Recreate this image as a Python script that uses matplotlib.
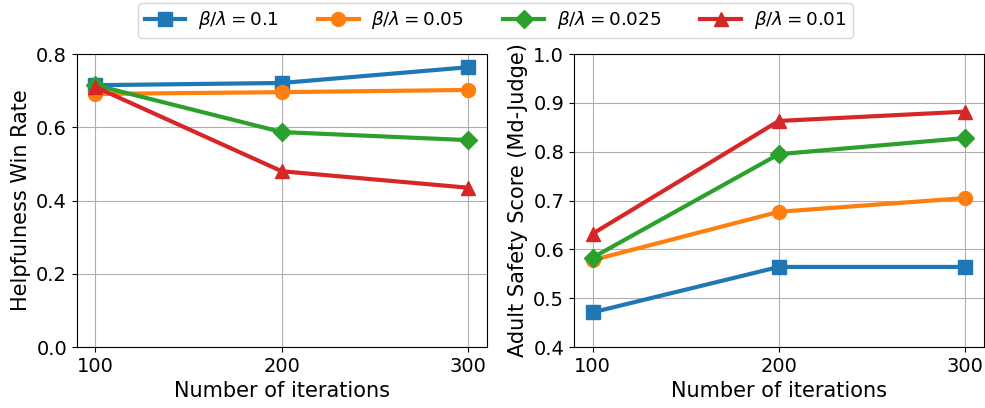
import matplotlib
matplotlib.use("Agg")
import matplotlib.pyplot as plt

iterations = [100, 200, 300]
labels = [r'$\beta/\lambda = 0.1$', r'$\beta/\lambda = 0.05$',
          r'$\beta/\lambda = 0.025$', r'$\beta/\lambda = 0.01$']
colors = ['#1f77b4', '#ff7f0e', '#2ca02c', '#d62728']
markers = ['s', 'o', 'D', '^']

# Helpfulness win rate
help_01 = [0.715, 0.721, 0.764]
help_005 = [0.691, 0.696, 0.702]
help_0025 = [0.715, 0.587, 0.565]
help_001 = [0.710, 0.480, 0.435]

# Adult safety score (Md-Judge)
safe_01 = [0.471, 0.564, 0.564]
safe_005 = [0.578, 0.677, 0.705]
safe_0025 = [0.583, 0.795, 0.828]
safe_001 = [0.632, 0.863, 0.882]

fig = plt.figure(figsize=(9.85, 4.08), dpi=100)
ax1 = fig.add_axes([0.078, 0.1495, 0.416, 0.718])
ax2 = fig.add_axes([0.5827, 0.1495, 0.416, 0.718])

lines = []
for vals, lab, c, m in zip([help_01, help_005, help_0025, help_001], labels, colors, markers):
    ms = 9 if m == 'D' else 10
    l, = ax1.plot(iterations, vals, color=c, marker=m, lw=3, ms=ms, label=lab)
    lines.append(l)
for vals, c, m in zip([safe_01, safe_005, safe_0025, safe_001], colors, markers):
    ms = 9 if m == 'D' else 10
    ax2.plot(iterations, vals, color=c, marker=m, lw=3, ms=ms)

ax1.set_ylim(0, 0.8)
ax1.set_yticks([0.0, 0.2, 0.4, 0.6, 0.8])
ax1.set_ylabel('Helpfulness Win Rate', fontsize=15)
ax2.set_ylim(0.4, 1.0)
ax2.set_yticks([0.4, 0.5, 0.6, 0.7, 0.8, 0.9, 1.0])
ax2.set_ylabel('Adult Safety Score (Md-Judge)', fontsize=15)

for ax in (ax1, ax2):
    ax.set_xticks(iterations)
    ax.set_xlim(90, 310)
    ax.set_xlabel('Number of iterations', fontsize=15)
    ax.tick_params(labelsize=14)
    ax.grid(True)

fig.legend(handles=lines, loc='upper center', ncol=4, fontsize=13.2,
           bbox_to_anchor=(0.503, 1.015), handlelength=2.2, columnspacing=2.15,
           handletextpad=0.7, borderpad=0.35)

fig.savefig('out.png', dpi=100)
